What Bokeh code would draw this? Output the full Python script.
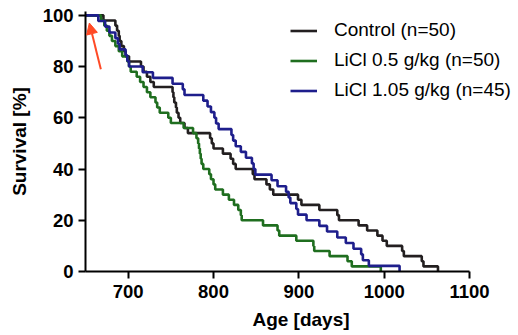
from bokeh.plotting import figure
from bokeh.models import Range1d, FixedTicker, Legend, LegendItem, Arrow, NormalHead
from bokeh.embed import file_html
from bokeh.resources import INLINE

# ---- data (days, survival %) ----
ctrl_days = [650, 671, 685, 687, 689, 690, 692, 695, 697, 701, 715, 718, 722, 726, 730,
             752, 753, 754, 756, 757, 759, 761, 766, 770, 796, 798, 800, 811, 820, 823,
             826, 846, 848, 862, 866, 870, 899, 903, 924, 945, 947, 970, 980, 992, 998,
             1003, 1021, 1023, 1044, 1046, 1063]
ctrl_surv = [100, 98, 96, 94, 92, 90, 88, 86, 84, 82, 80, 78, 76, 74, 72,
             70, 68, 66, 64, 62, 60, 58, 56, 54, 52, 50, 48, 46, 44, 42,
             40, 38, 36, 34, 32, 30, 28, 26, 24, 22, 20, 18, 16, 14, 12,
             10, 8, 6, 4, 2, 0]

licl05_days = [650, 668, 672, 675, 678, 681, 685, 689, 693, 699, 701, 703, 710, 714, 718,
               722, 726, 732, 734, 737, 747, 750, 765, 776, 780, 782, 783, 784, 785, 786,
               788, 795, 797, 800, 802, 811, 818, 824, 829, 832, 833, 858, 875, 877, 897,
               917, 918, 936, 957, 962, 996]
licl05_surv = [100, 98, 96, 94, 92, 90, 88, 86, 84, 82, 80, 78, 76, 74, 72,
               70, 68, 66, 64, 62, 60, 58, 56, 54, 52, 50, 48, 46, 44, 42,
               40, 38, 36, 34, 32, 30, 28, 26, 24, 22, 20, 18, 16, 14, 12,
               10, 8, 6, 4, 2, 0]

licl105_days = [650, 665, 673, 678, 685, 688, 690, 697, 699, 701, 717, 729, 752, 764, 766,
                788, 793, 797, 801, 803, 806, 821, 823, 826, 832, 838, 845, 847, 849, 868,
                875, 885, 888, 890, 897, 899, 909, 924, 933, 945, 955, 964, 973, 975, 982,
                1018]
licl105_surv = [100, 97.8, 95.6, 93.3, 91.1, 88.9, 86.7, 84.4, 82.2, 80, 77.8, 75.6, 73.3, 71.1, 68.9,
                66.7, 64.4, 62.2, 60, 57.8, 55.6, 53.3, 51.1, 48.9, 46.7, 44.4, 42.2, 40, 37.8, 35.6,
                33.3, 31.1, 28.9, 26.7, 24.4, 22.2, 20, 17.8, 15.6, 13.3, 11.1, 8.9, 6.7, 4.4, 2.2,
                0]

labels = ["Control (n=50)", "LiCl 0.5 g/kg (n=50)", "LiCl 1.05 g/kg (n=45)"]
colors = ["#231f20", "#1f6e1f", "#1e1e8c"]
x_ticks = [700, 800, 900, 1000, 1100]
y_ticks = [0, 20, 40, 60, 80, 100]
x_axis_bounds = (650, 1100)
arrow_from = (668, 79)
arrow_to = (654.5, 97)

FONT = "Liberation Sans"

p = figure(width=518, height=335, output_backend="svg", toolbar_location=None,
           x_range=Range1d(650, 1155), y_range=Range1d(0, 101.5),
           min_border_left=85, min_border_right=2, min_border_top=11, min_border_bottom=64)
p.outline_line_color = None
p.grid.visible = False
p.background_fill_color = "white"

series = [(ctrl_days, ctrl_surv), (licl05_days, licl05_surv), (licl105_days, licl105_surv)]
renderers = []
for (d, s), c in zip(series, colors):
    r = p.step(d, s, mode="after", line_color=c, line_width=2.6)
    renderers.append(r)

p.add_layout(Arrow(end=NormalHead(size=11, fill_color="#ff4a26", line_color="#ff4a26"),
                   x_start=arrow_from[0], y_start=arrow_from[1],
                   x_end=arrow_to[0], y_end=arrow_to[1],
                   line_color="#ff4a26", line_width=2))

for ax in (p.xaxis[0], p.yaxis[0]):
    ax.axis_line_width = 2
    ax.axis_line_color = "black"
    ax.major_tick_line_width = 2
    ax.major_tick_line_color = "black"
    ax.major_tick_out = 7
    ax.major_tick_in = 0
    ax.minor_tick_line_color = None
    ax.major_label_text_font = FONT
    ax.major_label_text_font_style = "bold"
    ax.major_label_text_font_size = "18.5px"
    ax.major_label_text_color = "black"
    ax.axis_label_text_font = FONT
    ax.axis_label_text_font_style = "bold"
    ax.axis_label_text_font_size = "19px"
    ax.axis_label_text_color = "black"

p.xaxis.bounds = x_axis_bounds
p.xaxis.ticker = FixedTicker(ticks=x_ticks)
p.yaxis.ticker = FixedTicker(ticks=y_ticks)
p.xaxis.axis_label = "Age [days]"
p.yaxis.axis_label = "Survival [%]"
p.xaxis.major_label_standoff = 6
p.yaxis.major_label_standoff = 5
p.xaxis.axis_label_standoff = 8
p.yaxis.axis_label_standoff = 10

legend = Legend(items=[LegendItem(label=l, renderers=[r]) for l, r in zip(labels, renderers)],
                location=(205, 170), border_line_color=None, background_fill_alpha=0,
                padding=0, margin=0, spacing=8, glyph_width=27, glyph_height=21,
                label_height=21, label_standoff=17,
                label_text_font=FONT, label_text_font_size="19px", label_text_color="black")
p.add_layout(legend, "center")

open("out.html", "w").write(file_html(p, INLINE))
